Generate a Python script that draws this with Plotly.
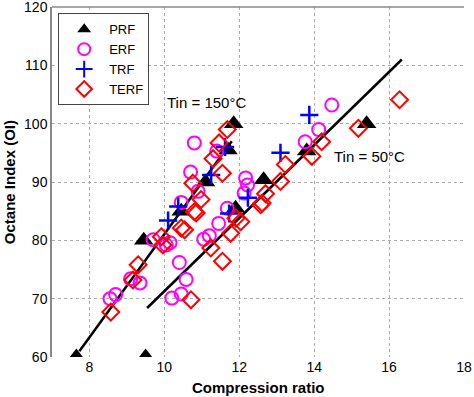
import plotly.graph_objects as go

# PRF (black triangles)
prf_x = [7.65, 9.5, 9.45, 10.45, 11.1, 11.7, 11.85, 11.9, 12.65, 13.8, 15.4]
prf_y = [60, 60, 80, 85, 90, 95.5, 100, 85.5, 90.4, 95.3, 100]

# ERF (magenta circles)
erf_x = [8.55, 8.7, 9.1, 9.35, 9.7, 10.05, 10.15, 10.2, 10.45, 10.4, 10.58, 10.45,
         10.7, 10.8, 10.9, 11.05, 11.2, 11.45, 11.68, 11.4, 12.17, 12.22, 12.13,
         13.76, 14.12, 14.47]
erf_y = [70.0, 70.7, 73.4, 72.7, 80.1, 79.2, 79.6, 70.1, 70.8, 76.2, 73.3, 86.5,
         91.7, 96.7, 88.4, 80.2, 80.8, 82.9, 85.5, 95.3, 90.7, 89.5, 88.1,
         96.9, 99.0, 103.2]

# TRF (blue crosses)
trf_x = [10.1, 10.37, 11.25, 11.62, 11.73, 12.23, 13.1, 13.87]
trf_y = [83.4, 85.8, 91.2, 96.0, 84.6, 87.3, 95.0, 101.5]

# TERF (red diamonds)
terf_x = [8.57, 9.16, 9.3, 9.92, 9.96, 10.45, 10.54, 10.71, 10.76, 10.8, 10.85, 10.98,
          11.24, 11.3, 11.46, 11.55, 11.55, 11.68, 11.77, 11.91, 12.04, 12.57, 12.61,
          12.7, 13.1, 13.23, 13.94, 14.2, 15.18, 16.28]
terf_y = [67.7, 73.2, 75.8, 80.6, 79.2, 82.1, 81.8, 69.8, 89.8, 84.9, 84.7, 87.0,
          78.7, 94.0, 96.7, 91.5, 76.4, 99.0, 81.2, 83.8, 83.2, 86.1, 86.4,
          88.0, 90.1, 93.0, 94.4, 96.9, 99.2, 104.1]

# Fit lines
line150_x = [7.73, 11.8]
line150_y = [61.0, 97.0]
line50_x = [9.54, 16.34]
line50_y = [68.4, 111.0]

x_ticks = [8, 10, 12, 14, 16, 18]
y_ticks = [60, 70, 80, 90, 100, 110, 120]

font = "Liberation Sans, Arial, Helvetica, sans-serif"

fig = go.Figure()
fig.add_trace(go.Scatter(x=line150_x, y=line150_y, mode="lines",
                         line=dict(color="black", width=2.5), showlegend=False))
fig.add_trace(go.Scatter(x=line50_x, y=line50_y, mode="lines",
                         line=dict(color="black", width=2.5), showlegend=False))
fig.add_trace(go.Scatter(x=prf_x, y=prf_y, mode="markers", name="PRF",
                         marker=dict(symbol="triangle-up", size=17, color="black")))
fig.add_trace(go.Scatter(x=erf_x, y=erf_y, mode="markers", name="ERF",
                         marker=dict(symbol="circle-open", size=13, color="#ff00ff",
                                     line=dict(width=2, color="#ff00ff"))))
fig.add_trace(go.Scatter(x=trf_x, y=trf_y, mode="markers", name="TRF",
                         marker=dict(symbol="cross-thin-open", size=13, color="#0000ff",
                                     line=dict(width=2.5, color="#0000ff"))))
fig.add_trace(go.Scatter(x=terf_x, y=terf_y, mode="markers", name="TERF",
                         marker=dict(symbol="diamond-open", size=13, color="#ff0000",
                                     line=dict(width=2, color="#ff0000"))))

fig.add_annotation(x=11.13, y=103.6, text="Tin = 150°C", showarrow=False,
                   font=dict(family=font, size=15, color="black"))
fig.add_annotation(x=15.47, y=94.3, text="Tin = 50°C", showarrow=False,
                   font=dict(family=font, size=15, color="black"))

# axis titles
fig.add_annotation(xref="paper", yref="paper", x=0.5, y=-0.086, text="<b>Compression ratio</b>",
                   showarrow=False, xanchor="center", yanchor="middle",
                   font=dict(family=font, size=15, color="black"))
fig.add_annotation(xref="paper", yref="paper", x=-0.104, y=0.5, text="<b>Octane Index (OI)</b>",
                   showarrow=False, xanchor="center", yanchor="middle", textangle=-90,
                   font=dict(family=font, size=15, color="black"))

fig.add_shape(type="line", xref="paper", yref="paper", x0=0, x1=1, y0=1, y1=1,
              line=dict(color="#888888", width=1.5))

fig.update_layout(
    width=474, height=397,
    margin=dict(l=52, r=10, t=7, b=40),
    plot_bgcolor="white", paper_bgcolor="white",
    font=dict(family=font, size=14, color="black"),
    xaxis=dict(range=[7, 18], tickvals=x_ticks, ticks="", showline=False,
               showgrid=True, gridcolor="#aaaaaa", griddash="dot", gridwidth=1,
               zeroline=False, automargin=False, tickfont=dict(size=14),
               ticklabeloverflow="allow"),
    yaxis=dict(range=[60, 120], tickvals=y_ticks, ticks="", showline=True,
               linecolor="#888888", linewidth=1.5,
               showgrid=True, gridcolor="#aaaaaa", griddash="dot", gridwidth=1,
               zeroline=False, automargin=False, tickfont=dict(size=14),
               ticklabeloverflow="allow"),
    legend=dict(x=0.015, y=0.982, xanchor="left", yanchor="top",
                bgcolor="white", bordercolor="#444444", borderwidth=1,
                font=dict(size=13), itemsizing="constant", itemwidth=40,
                tracegroupgap=0),
)

fig.write_html("out.html", config={"displayModeBar": False},
               post_script="document.body.style.margin='0';")
